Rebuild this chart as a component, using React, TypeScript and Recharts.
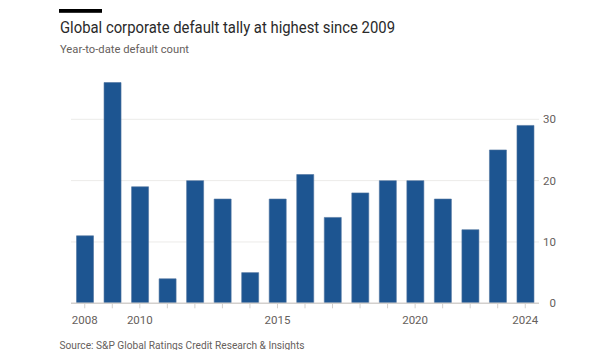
import React from 'react';
import { BarChart, Bar, XAxis, YAxis, CartesianGrid } from 'recharts';

const years = ['2008','2009','2010','2011','2012','2013','2014','2015','2016','2017','2018','2019','2020','2021','2022','2023','2024'];
const defaults = [11, 36, 19, 4, 20, 17, 5, 17, 21, 14, 18, 20, 20, 17, 12, 25, 29];
const yTicks = [0, 10, 20, 30];
const gridValues = [10, 20, 30];
const labeledYears = ['2008', '2010', '2015', '2020', '2024'];

const data = years.map((y, i) => ({ year: y, value: defaults[i] }));

const FONT = 'Roboto, "Noto Sans", sans-serif';
const GRAY = '#66605c';

const YTick = (props: any) => {
  const { x, y, payload } = props;
  return (
    <text x={x + 13} y={y} dy="0.355em" textAnchor="end" fontSize={11.5} fill={GRAY} fontFamily={FONT}>
      {payload.value}
    </text>
  );
};

export default function App() {
  return (
    <div style={{ position: 'absolute', left: 0, top: 0, width: 602, height: 350, background: '#fff', overflow: 'hidden' }}>
      <BarChart width={602} height={350} data={data} margin={{ top: 82.5, right: 23, bottom: 16.7, left: 71 }} barCategoryGap="20%">
        <CartesianGrid vertical={false} horizontalValues={gridValues} stroke="#ecebe9" strokeWidth={1} />
        <XAxis
          dataKey="year"
          interval={0}
          height={30}
          tickSize={5}
          tickMargin={8}
          axisLine={{ stroke: '#d3d0cd', strokeWidth: 1.5 }}
          tickLine={{ stroke: '#d3d0cd' }}
          tick={{ fontSize: 11.5, fill: GRAY, fontFamily: FONT }}
          tickFormatter={(v: string) => (labeledYears.includes(v) ? v : '')}
        />
        <YAxis
          orientation="right"
          width={40}
          domain={[0, 36]}
          ticks={yTicks}
          axisLine={false}
          tickLine={false}
          tickSize={0}
          tickMargin={4}
          tick={<YTick />}
        />
        <Bar dataKey="value" fill="#1d5591" stroke="#4f73a0" strokeWidth={0.6} isAnimationActive={false} />
      </BarChart>
      <svg width={602} height={350} style={{ position: 'absolute', left: 0, top: 0, pointerEvents: 'none' }}>
        <rect x={59} y={9} width={43} height={3.8} fill="#000" />
        <text x={60} y={33} fontSize={16} fill="#2a2a2a" fontFamily={FONT} textLength={335} lengthAdjust="spacingAndGlyphs">
          Global corporate default tally at highest since 2009
        </text>
        <text x={60} y={52.5} fontSize={11} fill={GRAY} fontFamily={FONT} textLength={129} lengthAdjust="spacingAndGlyphs">
          Year-to-date default count
        </text>
        <text x={59.5} y={348.5} fontSize={11} fill={GRAY} fontFamily={FONT} textLength={245} lengthAdjust="spacingAndGlyphs">
          Source: S&amp;P Global Ratings Credit Research &amp; Insights
        </text>
      </svg>
    </div>
  );
}
